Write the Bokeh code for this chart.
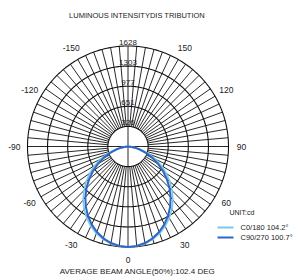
import numpy as np
from bokeh.plotting import figure
from bokeh.models import Range1d
from bokeh.core.properties import value
from bokeh.embed import file_html
from bokeh.resources import INLINE

# ---------------- data ----------------
title_text = "LUMINOUS INTENSITYDIS TRIBUTION"
footer_text = "AVERAGE BEAM ANGLE(50%):102.4 DEG"
unit_text = "UNIT:cd"
ring_values = [326, 651, 977, 1303, 1628]
angle_ticks = [-150, -120, -90, -60, -30, 0, 30, 60, 90, 120, 150]
angles = [0, 5, 10, 15, 20, 25, 30, 35, 40, 45, 50, 55, 60, 65, 70, 75, 80, 85, 90]
c0_180 = [1628, 1621, 1596, 1556, 1498, 1425, 1338, 1240, 1130, 1010, 885, 755, 625, 495, 370, 250, 145, 60, 10]
c90_270 = [1628, 1618, 1588, 1540, 1474, 1393, 1298, 1190, 1075, 950, 822, 692, 560, 435, 315, 205, 110, 40, 0]
series_names = ["C0/180", "C90/270"]
series_beam = ["104.2°", "100.7°"]
series_colors = ["#7cc8ec", "#2f66c4"]

# ---------------- geometry ----------------
W, H = 295, 278
Rpx = 100.5
cx, cy = 127.5, 146.0          # centre in pixels
s = max(ring_values) / Rpx      # cd per pixel

def px(xp, yp):
    return (xp - cx) * s, (cy - yp) * s

p = figure(width=W, height=H, output_backend="svg", toolbar_location=None,
           x_axis_type=None, y_axis_type=None, min_border=0,
           x_range=Range1d(-cx * s, (W - cx) * s),
           y_range=Range1d(-(H - cy) * s, cy * s))
p.grid.visible = False
p.outline_line_color = None
p.background_fill_color = "white"

font = value("Liberation Sans")
Rmax = max(ring_values)
Rin = min(ring_values)
grid_col = "#111111"

# radial lines every 5 degrees
xs, ys = [], []
for a in range(0, 360, 5):
    t = np.radians(a)
    r0 = 0 if a % 90 == 0 else Rin
    xs.append([r0 * np.sin(t), Rmax * np.sin(t)])
    ys.append([-r0 * np.cos(t), -Rmax * np.cos(t)])
p.multi_line(xs, ys, line_color=grid_col, line_width=0.9)

# rings
tt = np.linspace(0, 2 * np.pi, 361)
p.multi_line([list(r * np.sin(tt)) for r in ring_values],
             [list(r * np.cos(tt)) for r in ring_values],
             line_color=grid_col, line_width=1.1)

# ring labels
p.text(x=[0] * len(ring_values), y=[r + 1.0 * s for r in ring_values],
       text=[str(v) for v in ring_values], text_align="center",
       text_baseline="bottom", text_font=font, text_font_size="8px",
       text_color="#222222")

# angle labels
rl = 1.13 * Rmax
p.text(x=[rl * np.sin(np.radians(a)) for a in angle_ticks],
       y=[-rl * np.cos(np.radians(a)) for a in angle_ticks],
       text=[str(a) for a in angle_ticks], text_align="center",
       text_baseline="middle", text_font=font, text_font_size="8.5px",
       text_color="#222222")

# curves
full_ang = [-a for a in angles[::-1]] + angles[1:]
for vals, col, lw in [(c0_180, series_colors[0], 1.6), (c90_270, series_colors[1], 2.0)]:
    full_val = vals[::-1] + vals[1:]
    th = np.radians(full_ang)
    v = np.array(full_val, dtype=float)
    p.line(v * np.sin(th), -v * np.cos(th), line_color=col, line_width=lw)

# title & footer
tx, ty = px(136.5, 15)
p.text(x=[tx], y=[ty], text=[title_text], text_align="center", text_baseline="middle",
       text_font=font, text_font_size="7.5px", text_color="#222222")
fx_, fy_ = px(137, 271)
p.text(x=[fx_], y=[fy_], text=[footer_text], text_align="center", text_baseline="middle",
       text_font=font, text_font_size="8px", text_color="#222222")

# legend
ux, uy = px(229, 212)
p.text(x=[ux], y=[uy], text=[unit_text], text_align="left", text_baseline="middle",
       text_font=font, text_font_size="7px", text_color="#222222")
for i, (nm, bm, col) in enumerate(zip(series_names, series_beam, series_colors)):
    yy = 227 + 10 * i
    x0, y0 = px(217, yy)
    x1, _ = px(233, yy)
    p.segment(x0=[x0], y0=[y0], x1=[x1], y1=[y0], line_color=col, line_width=2)
    lx, ly = px(240, yy)
    p.text(x=[lx], y=[ly], text=[f"{nm} {bm}"], text_align="left", text_baseline="middle",
           text_font=font, text_font_size="7.5px", text_color="#222222")

open("out.html", "w").write(file_html(p, INLINE))
